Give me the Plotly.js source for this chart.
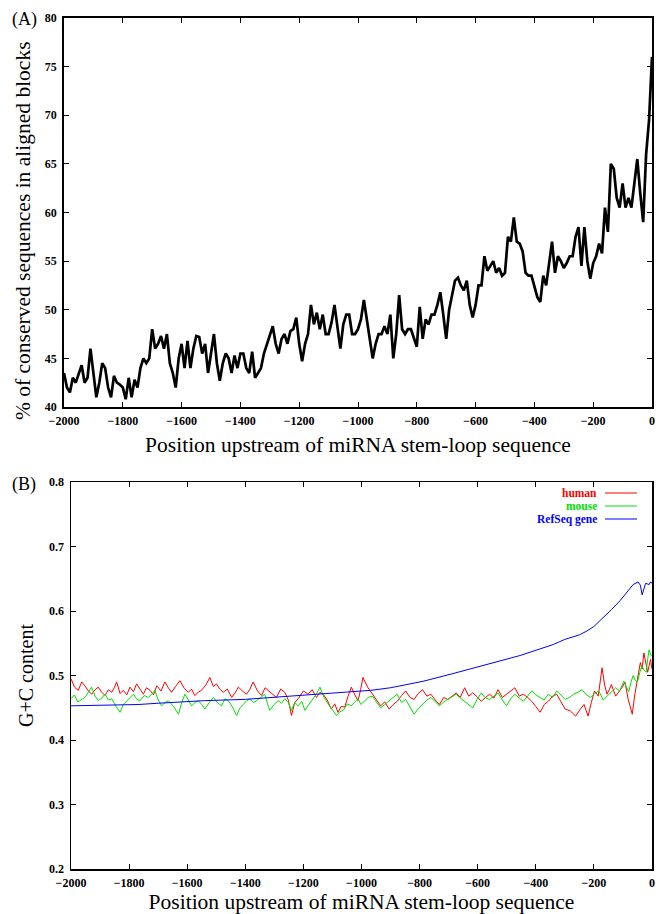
<!DOCTYPE html>
<html>
<head>
<meta charset="utf-8">
<script src="https://cdn.plot.ly/plotly-3.0.1.min.js"></script>
<style>html,body{margin:0;padding:0;background:#fff;}#chart{width:656px;height:914px;}</style>
</head>
<body>
<div id="chart"></div>
<script>
// ---------- Panel A: % conserved sequences (positions -2000..0, step 10) ----------
const consPositions = [];
for (let p = -2000; p <= 0; p += 10) consPositions.push(p);
const consValues = [
43.5,42,41.5,43,42.5,43.5,44.3,42.5,43,46,
43.5,41,42.5,44.5,44,42,41,43.2,42.5,42.3,
42,40.8,43,41,42.8,42,44,45,44.5,45,
48,46,46.5,47.3,46,47.5,44.5,43.5,42,45,
46.5,44,46.8,44,46,47.3,47.2,45.5,46.5,43.5,
45.5,47.5,44.5,42.7,44.5,45.5,45,43.5,45.3,44,
45.5,45.5,44,43.5,45.7,43,43.5,44,45.5,46.5,
47.5,48.3,46.5,45.5,47,47.5,46.5,47.8,48,49.2,
46.5,44.7,46.5,47.5,50.5,48.5,49.7,48,49.5,47.5,
47.5,48.7,50.5,48.5,46,48.5,49.5,49.5,47.5,47.5,
48,49,51,49,47,45,46.5,47.5,47.5,48.3,
47.5,49.5,45,47.5,51.5,48,47.5,48,48,47,
46.2,50.3,47,49,48.5,49.5,49.5,50.5,51.8,49.5,
47,50,51.5,53,53.3,52.5,52,53,50.5,49.2,
50.5,52.5,52.5,55.5,54,54.5,55,53.8,54.3,53.5,
53.8,57.5,57,59.5,57,56.8,56,53.8,53.5,53.5,
52.5,51.3,50.8,53.5,52.5,54.5,57,53.8,55.5,55,
54.3,54.8,55.5,55.5,57.5,58.5,54.5,58.5,55,53.2,
54.8,55.5,56.8,55.8,60.5,58,65,64.5,61.5,60.5,
63,60.5,61.5,60.5,63,65.5,62,59,66,69.5,
76
];

// ---------- Panel B: G+C content ----------
const humanPos = [-2000,-1988,-1975,-1963,-1952,-1940,-1929,-1917,-1906,-1894,-1883,-1871,-1860,-1851,-1843,-1831,-1820,-1808,-1797,-1785,-1774,-1762,-1751,-1740,-1728,-1716,-1705,-1690,-1677,-1665,-1654,-1640,-1625,-1610,-1596,-1585,-1574,-1562,-1551,-1536,-1522,-1510,-1499,-1488,-1476,-1462,-1447,-1435,-1424,-1410,-1396,-1385,-1373,-1358,-1344,-1332,-1321,-1307,-1293,-1278,-1264,-1252,-1241,-1230,-1218,-1200,-1184,-1170,-1155,-1143,-1132,-1118,-1104,-1092,-1081,-1070,-1058,-1046,-1035,-1023,-1012,-1003,-995,-979,-963,-948,-934,-920,-905,-891,-877,-862,-848,-833,-819,-805,-790,-775,-761,-746,-732,-717,-703,-688,-674,-660,-645,-631,-617,-602,-588,-573,-559,-544,-530,-515,-501,-486,-472,-457,-443,-428,-414,-400,-385,-371,-357,-342,-328,-313,-299,-281,-263,-248,-234,-227,-220,-209,-198,-185,-172,-163,-155,-147,-140,-125,-111,-102,-93,-87,-82,-75,-68,-60,-53,-46,-40,-34,-28,-21,-15,-10,-5,0];
const humanGC = [0.495,0.482,0.477,0.49,0.484,0.476,0.471,0.478,0.482,0.474,0.469,0.478,0.474,0.481,0.49,0.472,0.477,0.47,0.482,0.475,0.487,0.479,0.471,0.481,0.477,0.47,0.484,0.476,0.49,0.481,0.474,0.483,0.492,0.48,0.474,0.479,0.469,0.474,0.477,0.485,0.497,0.483,0.487,0.479,0.474,0.479,0.466,0.473,0.482,0.476,0.471,0.478,0.49,0.476,0.469,0.481,0.477,0.471,0.466,0.479,0.474,0.462,0.438,0.458,0.464,0.476,0.471,0.478,0.466,0.474,0.471,0.462,0.448,0.456,0.443,0.452,0.451,0.468,0.482,0.47,0.461,0.478,0.497,0.482,0.471,0.462,0.453,0.459,0.448,0.455,0.46,0.469,0.476,0.466,0.463,0.472,0.478,0.468,0.471,0.462,0.455,0.466,0.463,0.468,0.473,0.466,0.481,0.468,0.473,0.467,0.46,0.466,0.471,0.465,0.478,0.466,0.471,0.475,0.481,0.468,0.471,0.466,0.46,0.452,0.443,0.455,0.46,0.468,0.471,0.459,0.448,0.445,0.437,0.447,0.455,0.446,0.437,0.458,0.476,0.468,0.512,0.485,0.471,0.478,0.486,0.468,0.476,0.482,0.49,0.472,0.463,0.452,0.44,0.468,0.49,0.505,0.52,0.51,0.535,0.52,0.505,0.515,0.525,0.51];

const mousePos = [-2000,-1988,-1977,-1965,-1952,-1940,-1929,-1917,-1906,-1894,-1883,-1871,-1860,-1845,-1831,-1820,-1808,-1796,-1785,-1773,-1762,-1748,-1734,-1722,-1711,-1700,-1688,-1676,-1665,-1647,-1630,-1619,-1608,-1596,-1585,-1573,-1562,-1550,-1539,-1524,-1510,-1496,-1482,-1470,-1459,-1445,-1430,-1418,-1407,-1395,-1384,-1372,-1361,-1347,-1333,-1324,-1316,-1301,-1287,-1275,-1264,-1252,-1241,-1230,-1218,-1206,-1195,-1183,-1172,-1157,-1143,-1129,-1115,-1100,-1086,-1074,-1063,-1049,-1035,-1023,-1012,-1002,-992,-977,-963,-948,-934,-920,-905,-891,-877,-862,-848,-833,-819,-805,-790,-775,-761,-746,-732,-717,-703,-688,-674,-660,-645,-631,-617,-602,-588,-573,-559,-544,-530,-515,-501,-486,-472,-457,-443,-428,-414,-400,-385,-371,-357,-342,-328,-313,-299,-284,-270,-255,-241,-226,-212,-197,-183,-168,-154,-139,-125,-111,-97,-88,-80,-72,-65,-57,-50,-42,-35,-27,-20,-15,-10,-5,0];
const mouseGC = [0.464,0.47,0.459,0.462,0.466,0.474,0.482,0.468,0.461,0.465,0.471,0.462,0.464,0.452,0.443,0.455,0.461,0.466,0.471,0.463,0.461,0.469,0.466,0.471,0.477,0.462,0.453,0.458,0.461,0.452,0.44,0.458,0.471,0.462,0.453,0.458,0.461,0.455,0.448,0.458,0.466,0.458,0.453,0.464,0.461,0.452,0.438,0.45,0.456,0.461,0.464,0.458,0.461,0.466,0.471,0.457,0.446,0.455,0.461,0.457,0.464,0.458,0.446,0.458,0.453,0.46,0.446,0.454,0.461,0.47,0.482,0.466,0.456,0.447,0.438,0.444,0.446,0.456,0.453,0.459,0.464,0.455,0.46,0.466,0.468,0.458,0.45,0.455,0.46,0.466,0.471,0.458,0.463,0.452,0.44,0.448,0.455,0.462,0.466,0.46,0.453,0.459,0.463,0.468,0.471,0.465,0.46,0.456,0.45,0.463,0.473,0.465,0.463,0.468,0.473,0.462,0.453,0.464,0.471,0.465,0.46,0.468,0.476,0.47,0.466,0.462,0.471,0.466,0.476,0.469,0.463,0.466,0.471,0.474,0.478,0.47,0.466,0.472,0.476,0.462,0.468,0.474,0.481,0.476,0.491,0.482,0.475,0.49,0.5,0.492,0.49,0.505,0.515,0.508,0.505,0.525,0.54,0.532,0.53];

const refseqPos = [-2000,-1900,-1769,-1700,-1540,-1400,-1312,-1200,-1081,-968,-900,-788,-685,-568,-454,-340,-300,-250,-224,-200,-167,-140,-110,-90,-65,-48,-40,-34,-28,-22,-10,-5,0];
const refseqGC = [0.453,0.454,0.455,0.457,0.461,0.463,0.466,0.469,0.473,0.477,0.481,0.491,0.503,0.517,0.531,0.548,0.556,0.563,0.569,0.576,0.59,0.602,0.616,0.627,0.641,0.645,0.64,0.625,0.635,0.643,0.641,0.645,0.643];

const seriesNames = ['human', 'mouse', 'RefSeq gene'];
const seriesColors = ['#ff0000', '#00e000', '#0000ff'];

const serif = 'Liberation Serif, Times New Roman, serif';
const tickFont = {family: serif, size: 12, color: '#000', weight: 'bold'};

const traces = [
  {x: consPositions, y: consValues, type: 'scatter', mode: 'lines', xaxis: 'x', yaxis: 'y',
   line: {color: '#000', width: 2.7}, showlegend: false, hoverinfo: 'skip'},
  {x: humanPos, y: humanGC, type: 'scatter', mode: 'lines', xaxis: 'x2', yaxis: 'y2',
   line: {color: seriesColors[0], width: 1}, name: seriesNames[0], showlegend: false},
  {x: mousePos, y: mouseGC, type: 'scatter', mode: 'lines', xaxis: 'x2', yaxis: 'y2',
   line: {color: seriesColors[1], width: 1}, name: seriesNames[1], showlegend: false},
  {x: refseqPos, y: refseqGC, type: 'scatter', mode: 'lines', xaxis: 'x2', yaxis: 'y2',
   line: {color: seriesColors[2], width: 1}, name: seriesNames[2], showlegend: false}
];

const W = 656, H = 914;
function fx(px) { return px / W; }
function fy(py) { return 1 - py / H; }

const axisCommon = {
  showline: true, linecolor: '#000', mirror: 'ticks', ticks: 'inside', ticklen: 5,
  tickcolor: '#000', showgrid: false, zeroline: false, tickfont: tickFont, fixedrange: true
};

const layout = {
  width: W, height: H,
  margin: {l: 0, r: 0, t: 0, b: 0},
  paper_bgcolor: '#fff', plot_bgcolor: '#fff',
  showlegend: false,
  xaxis: Object.assign({}, axisCommon, {
    domain: [fx(64), fx(652)], anchor: 'y', range: [-2000, 0], dtick: 200, tick0: 0,
    linewidth: 1.8, ticklabelstandoff: 2,
    title: {text: 'Position upstream of miRNA stem-loop sequence', font: {family: serif, size: 21.5, color: '#000'}, standoff: 10}
  }),
  yaxis: Object.assign({}, axisCommon, {
    domain: [fy(407), fy(18)], anchor: 'x', range: [40, 80], dtick: 5,
    linewidth: 1.8, ticklabelstandoff: 3,
    title: {text: ''}
  }),
  xaxis2: Object.assign({}, axisCommon, {
    domain: [fx(71), fx(652)], anchor: 'y2', range: [-2000, 0], dtick: 200, tick0: 0,
    linewidth: 1.5, ticklabelstandoff: 2,
    title: {text: 'Position upstream of miRNA stem-loop sequence', font: {family: serif, size: 21.5, color: '#000'}, standoff: 2}
  }),
  yaxis2: Object.assign({}, axisCommon, {
    domain: [fy(869), fy(482)], anchor: 'x2', range: [0.2, 0.8], dtick: 0.1, tickformat: '.1f',
    linewidth: 1.5, ticklabelstandoff: 3,
    title: {text: 'G+C content', font: {family: serif, size: 20, color: '#000'}, standoff: 10}
  }),
  annotations: [
    {text: '(A)', xref: 'paper', yref: 'paper', x: fx(10), y: fy(19), xanchor: 'left', yanchor: 'middle',
     showarrow: false, font: {family: serif, size: 18, color: '#000'}},
    {text: '(B)', xref: 'paper', yref: 'paper', x: fx(10), y: fy(484), xanchor: 'left', yanchor: 'middle',
     showarrow: false, font: {family: serif, size: 18, color: '#000'}},
    {text: '% of conserved sequences in aligned blocks', xref: 'paper', yref: 'paper',
     x: fx(23), y: fy(231), xanchor: 'center', yanchor: 'middle', textangle: -90,
     showarrow: false, font: {family: serif, size: 21.5, color: '#000'}}
  ],
  shapes: []
};

// gnuplot-style key: text right-aligned, then a line sample
const keyRows = [493, 506, 519];
seriesNames.forEach(function (nm, i) {
  layout.annotations.push({
    text: nm, xref: 'paper', yref: 'paper', x: fx(599), y: fy(keyRows[i]),
    xanchor: 'right', yanchor: 'middle', showarrow: false,
    font: {family: serif, size: 11.5, color: seriesColors[i], weight: 'bold'}
  });
  layout.shapes.push({
    type: 'line', xref: 'paper', yref: 'paper',
    x0: fx(605), x1: fx(637), y0: fy(keyRows[i]), y1: fy(keyRows[i]),
    line: {color: seriesColors[i], width: 1}
  });
});

Plotly.newPlot('chart', traces, layout, {staticPlot: true, displayModeBar: false});
</script>
</body>
</html>
